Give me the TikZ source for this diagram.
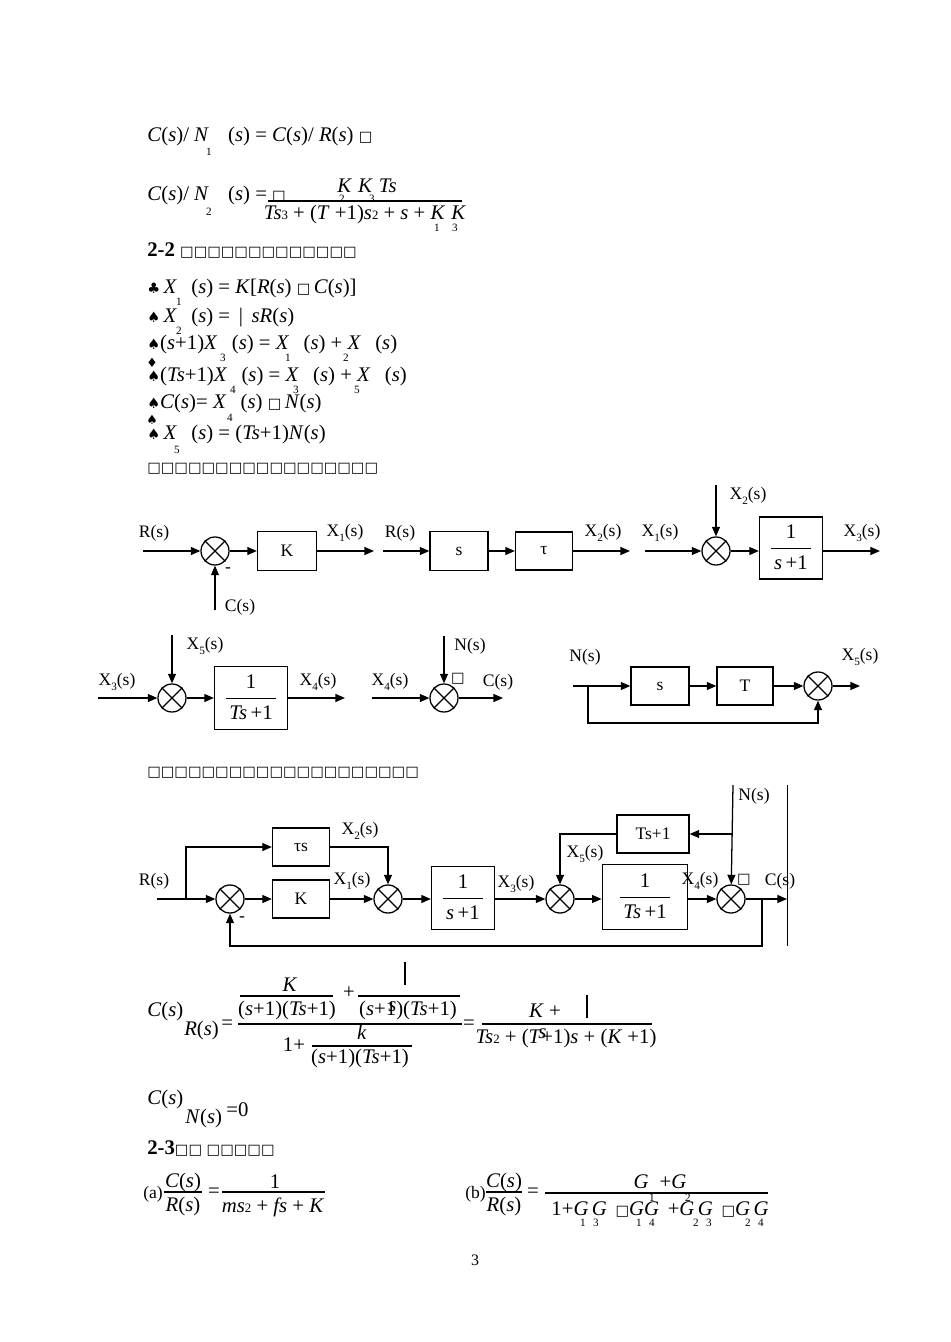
\documentclass[tikz,border=0pt]{standalone}
\usepackage{fontspec}
\setmainfont{Liberation Serif}
\newfontfamily\dv{DejaVu Sans}
\usetikzlibrary{arrows.meta}
\newlength\pxu \setlength\pxu{0.6264pt}
\newcommand\ii[1]{\textit{#1}}
\newcommand\bx{{\dv\fontsize{9}{9}\selectfont □}}
\newcommand\Xs[1]{X\raisebox{-3pt}{\fontsize{7}{7}\selectfont #1}(s)}
\newcommand\fr[2]{{\fontsize{13}{15}\selectfont\renewcommand\arraystretch{1.25}\setlength\tabcolsep{2pt}\begin{tabular}{c}#1\\\hline #2\end{tabular}}}
\begin{document}
\begin{tikzpicture}[x=1\pxu,y=-1\pxu,
  blk/.style={draw,line width=0.8pt,inner sep=0pt,font=\fontsize{11}{11}\selectfont},
  sj/.style={draw,circle,line width=0.8pt,minimum size=28\pxu,inner sep=0pt},
  ar/.style={line width=0.8pt,-{Triangle[length=6pt,width=5pt]}},
  ln/.style={line width=0.8pt},
  lb/.style={font=\fontsize{11}{12}\selectfont,inner sep=0pt},
  eq/.style={font=\fontsize{13}{14}\selectfont,inner sep=0pt,anchor=west},
  sb/.style={font=\fontsize{7}{7}\selectfont,inner sep=0pt},
  cn/.style={font=\fontsize{10}{10}\selectfont,inner sep=0pt,anchor=west}]
\useasboundingbox (0,0) rectangle (950,1342);
\newcommand\xs[1]{\draw[line width=0.7pt] (#1.45)--(#1.225) (#1.135)--(#1.-45);}
% ---------- top equations
\node[eq] (e1) at (147,137) {\ii{C}(\ii{s})/ \ii{N}\hspace{12pt}(\ii{s}) = \ii{C}(\ii{s})/ \ii{R}(\ii{s}) \bx};
\node[sb] (e1s) at (209,152) {1};
\node[eq] (e2) at (147,196) {\ii{C}(\ii{s})/ \ii{N}\hspace{12pt}(\ii{s}) = \bx};
\node[sb] (e2s) at (209,212) {2};
\node[eq,anchor=center] (e2n) at (367,186) {\ii{K\,\,K\,\,Ts}};
\node[sb] (e2a) at (342,199) {2}; \node[sb] (e2b) at (372,199) {3};
\draw[ln] (268,201) -- (462,201);
\node[eq,anchor=center] (e2d) at (365,215) {\ii{Ts}{\fontsize{8}{8}\selectfont 3} + (\ii{T} +1)\ii{s}{\fontsize{8}{8}\selectfont 2} + \ii{s} + \ii{K\,\,K}};
\node[sb] (e2c) at (437,228) {1}; \node[sb] (e2e) at (455,228) {3};
\node[eq] (h22) at (147,251) {\textbf{2-2} {\dv\fontsize{9}{9}\selectfont □□□□□□□□□□□□□}};
\node[eq] (l1) at (147,289) {{\dv\fontsize{9}{9}\selectfont ♣}\,\ii{X}\hspace{9pt}(\ii{s}) = \ii{K}[\ii{R}(\ii{s}) \bx\,\ii{C}(\ii{s})]};
\node[sb] (l1s) at (179,302) {1};
\node[eq] (l2) at (147,318) {{\dv\fontsize{9}{9}\selectfont ♠}\,\ii{X}\hspace{9pt}(\ii{s}) = \,|\, \ii{sR}(\ii{s})};
\node[sb] (l2s) at (179,331) {2};
\node[eq] (l3) at (147,345) {{\dv\fontsize{9}{9}\selectfont ♠}(\ii{s}+1)\ii{X}\hspace{9pt}(\ii{s}) = \ii{X}\hspace{9pt}(\ii{s}) + \ii{X}\hspace{9pt}(\ii{s})};
\node[sb] (l3s) at (223,358) {3}; \node[sb] (l3t) at (288,358) {1}; \node[sb] (l3u) at (346,358) {2};
\node[eq] (l4) at (147,377) {{\dv\fontsize{9}{9}\selectfont ♠}(\ii{Ts}+1)\ii{X}\hspace{9pt}(\ii{s}) = \ii{X}\hspace{9pt}(\ii{s}) + \ii{X}\hspace{9pt}(\ii{s})};
\node[sb] (l4s) at (233,390) {4}; \node[sb] (l4t) at (296,390) {3}; \node[sb] (l4u) at (357,390) {5};
\node[cn] (d4) at (146,363) {\dv\fontsize{8}{8}\selectfont ♦};
\node[eq] (l5) at (147,404) {{\dv\fontsize{9}{9}\selectfont ♠}\ii{C}(\ii{s})= \ii{X}\hspace{9pt}(\ii{s}) \bx\,\ii{N}(\ii{s})};
\node[sb] (l5s) at (230,418) {4};
\node[cn] (d5) at (146,420) {\dv\fontsize{8}{8}\selectfont ♠};
\node[eq] (l6) at (147,435) {{\dv\fontsize{9}{9}\selectfont ♠}\,\ii{X}\hspace{9pt}(\ii{s}) = (\ii{Ts}+1)\ii{N}(\ii{s})};
\node[sb] (l6s) at (177,450) {5};
\node[eq] (t1) at (147,469) {\dv\fontsize{9}{9}\selectfont □□□□□□□□□□□□□□□□□};
% ---------- row 1
\node[sj] (a1) at (215,551) {}; \xs{a1}
\node[blk,minimum width=59\pxu,minimum height=39\pxu] (k1) at (287,551) {K};
\coordinate (a1i) at (143,551); \coordinate (a1c) at (215,610); \coordinate (k1o) at (374,551);
\draw[ar] (a1i) -- (a1); \draw[ar] (a1c) -- (a1); \draw[ar] (a1) -- (k1); \draw[ar] (k1) -- (k1o);
\node[lb] (rs1) at (154,533) {R(s)}; \node[lb] (cs1) at (240,607) {C(s)};
\node[lb] (m1) at (228,570) {-}; \node[lb] (x1a) at (345,533) {\Xs{1}};
\node[blk,minimum width=58\pxu,minimum height=39\pxu] (bs) at (459,551) {s};
\node[blk,minimum width=57\pxu,minimum height=38\pxu] (bt) at (544,551) {τ};
\coordinate (bsi) at (383,551); \coordinate (bto) at (630,551);
\draw[ar] (bsi) -- (bs); \draw[ar] (bs) -- (bt); \draw[ar] (bt) -- (bto);
\node[lb] (rs2) at (400,533) {R(s)}; \node[lb] (x2a) at (603,533) {\Xs{2}};
\node[sj] (a3) at (716,551) {}; \xs{a3}
\node[blk,minimum width=63\pxu,minimum height=62\pxu] (b3) at (791,548) {\fr{1}{\ii{s}\,+1}};
\coordinate (a3i) at (645,551); \coordinate (a3t) at (716,485); \coordinate (b3o) at (880,551);
\draw[ar] (a3i) -- (a3); \draw[ar] (a3t) -- (a3); \draw[ar] (a3) -- (a3-|b3.west); \draw[ar] (b3.east|-a3) -- (b3o);
\node[lb] (x1b) at (660,533) {\Xs{1}}; \node[lb] (x2b) at (748,496) {\Xs{2}}; \node[lb] (x3b) at (862,533) {\Xs{3}};
% ---------- row 2
\node[sj] (a4) at (172,698) {}; \xs{a4}
\node[blk,minimum width=73\pxu,minimum height=63\pxu] (b4) at (251,698) {\fr{1}{\ii{Ts}\,+1}};
\coordinate (a4i) at (98,698); \coordinate (a4t) at (172,635); \coordinate (b4o) at (345,698);
\draw[ar] (a4i) -- (a4); \draw[ar] (a4t) -- (a4); \draw[ar] (a4) -- (b4); \draw[ar] (b4) -- (b4o);
\node[lb] (x3c) at (117,682) {\Xs{3}}; \node[lb] (x5c) at (205,646) {\Xs{5}}; \node[lb] (x4c) at (318,682) {\Xs{4}};
\node[sj] (a5) at (444,698) {}; \xs{a5}
\coordinate (a5i) at (372,698); \coordinate (a5t) at (444,636); \coordinate (a5o) at (503,698);
\draw[ar] (a5i) -- (a5); \draw[ar] (a5t) -- (a5); \draw[ar] (a5) -- (a5o);
\node[lb] (x4d) at (390,682) {\Xs{4}}; \node[lb] (ns1) at (470,646) {N(s)}; \node[lb] (cs2) at (498,682) {C(s)};
\node[lb] (bx1) at (458,679) {\bx};
\node[blk,minimum width=58\pxu,minimum height=38\pxu] (b6) at (660,686) {s};
\node[blk,minimum width=56\pxu,minimum height=38\pxu] (b7) at (745,686) {T};
\node[sj] (a6) at (818,686) {}; \xs{a6}
\coordinate (b6i) at (573,686); \coordinate (fb6) at (588,686); \coordinate (fb6b) at (588,723); \coordinate (a6o) at (860,686);
\draw[ar] (b6i) -- (b6); \draw[ar] (b6) -- (b7); \draw[ar] (b7) -- (a6); \draw[ar] (a6) -- (a6o);
\draw[ar] (fb6) -- (fb6b) -| (a6);
\node[lb] (ns2) at (585,657) {N(s)}; \node[lb] (x5e) at (860,657) {\Xs{5}};
\node[eq] (t2) at (147,773) {\dv\fontsize{9}{9}\selectfont □□□□□□□□□□□□□□□□□□□□};
% ---------- full diagram
\node[sj] (c1) at (230,899) {}; \xs{c1}
\node[blk,minimum width=57\pxu,minimum height=38\pxu] (ck) at (301,899) {K};
\node[blk,minimum width=57\pxu,minimum height=38\pxu] (ct) at (301,847) {τs};
\node[sj] (c2) at (388,899) {}; \xs{c2}
\node[blk,minimum width=63\pxu,minimum height=63\pxu] (cb1) at (463,898) {\fr{1}{\ii{s}\,+1}};
\node[sj] (c3) at (560,899) {}; \xs{c3}
\node[blk,minimum width=85\pxu,minimum height=65\pxu,line width=1.1pt] (cb2) at (645,897) {\fr{1}{\ii{Ts}\,+1}};
\node[sj] (c4) at (731,899) {}; \xs{c4}
\node[blk,minimum width=72\pxu,minimum height=38\pxu] (cts) at (653,834) {Ts+1};
\coordinate (ci) at (157,899); \coordinate (cbr) at (186,899); \coordinate (cbrt) at (186,847);
\coordinate (c2t) at (388,847); \coordinate (cfb) at (762,899); \coordinate (cfbb) at (762,946);
\coordinate (co) at (787,899); \coordinate (cn) at (733,785); \coordinate (cnb) at (733,834);
\coordinate (c3t) at (560,834);
\draw[ar] (ci) -- (c1); \draw[ar] (cbr) -- (cbrt) -- (ct);
\draw[ar] (c1) -- (ck); \draw[ar] (ck) -- (c2); \draw[ar] (ct) -- (c2t) -- (c2);
\draw[ar] (c2) -- (c2-|cb1.west); \draw[ar] (cb1.east|-c2) -- (c3);
\draw[ar] (c3) -- (c3-|cb2.west); \draw[ar] (cb2.east|-c3) -- (c4); \draw[ar] (c4) -- (co);
\draw[ar] (cfb) -- (cfbb) -| (c1);
\draw[ar] (cn) -- (c4); \draw[ar] (cnb) -- (cts); \draw[ar] (cts) -- (c3t) -- (c3);
\coordinate (vt) at (787,785); \coordinate (vb) at (787,946);
\draw[line width=0.6pt] (vt) -- (vb);
\node[lb] (rs3) at (154,881) {R(s)}; \node[lb] (m3) at (242,919) {-};
\node[lb] (x1f) at (352,881) {\Xs{1}}; \node[lb] (x2f) at (360,831) {\Xs{2}};
\node[lb] (x3f) at (516,884) {\Xs{3}}; \node[lb] (x5f) at (585,854) {\Xs{5}};
\node[lb] (x4f) at (700,881) {\Xs{4}}; \node[lb] (bx2) at (744,880) {\bx};
\node[lb] (cs3) at (780,881) {C(s)}; \node[lb] (ns3) at (754,796) {N(s)};
% ---------- big fraction
\node[eq] (f1) at (147,1011) {\ii{C}(\ii{s})};
\node[eq] (f2) at (184,1030) {\ii{R}(\ii{s})};
\node[eq] (f3) at (221,1025) {=};
\draw[ln] (238,1024) -- (462,1024);
\node[eq,anchor=center] (f4) at (290,985) {\ii{K}};
\draw[ln] (240,996) -- (333,996);
\node[eq,anchor=center] (f5) at (287,1010) {(\ii{s}+1)(\ii{Ts}+1)};
\node[eq,anchor=center] (f6) at (349,993) {+};
\draw[line width=1.2pt] (405,962) -- (405,985);
\draw[ln] (358,996) -- (460,996);
\node[eq,anchor=center] (f7) at (408,1010) {(\ii{s}+1\rlap{\raisebox{2pt}{\hspace{-5pt}\ii{s}}})(\ii{Ts}+1)};
\node[eq,anchor=center] (f8) at (294,1045) {1+};
\node[eq,anchor=center] (f9) at (362,1032) {\ii{k}};
\draw[ln] (312,1046) -- (412,1046);
\node[eq,anchor=center] (f10) at (360,1058) {(\ii{s}+1)(\ii{Ts}+1)};
\node[eq,anchor=center] (f11) at (469,1025) {=};
\node[eq,anchor=center] (f12) at (545,1011) {\ii{K} +};
\draw[line width=1.2pt] (587,995) -- (587,1018);
\draw[ln] (482,1024) -- (652,1024);
\node[eq,anchor=center] (f13) at (566,1038) {\ii{Ts}{\fontsize{8}{8}\selectfont 2} + (\ii{T}\rlap{\raisebox{3pt}{\hspace{-2pt}\ii{s}}}+1)\ii{s} + (\ii{K} +1)};
\node[eq] (g1) at (147,1099) {\ii{C}(\ii{s})};
\node[eq] (g2) at (185,1118) {\ii{N}(\ii{s})};
\node[eq] (g3) at (226,1110) {=0};
\node[eq] (h23) at (147,1148) {\textbf{2-3}{\dv\fontsize{9}{9}\selectfont □□ □□□□□}};
% (a)
\node[eq,font=\fontsize{11}{12}\selectfont] (pa) at (143,1194) {(a)};
\node[eq,anchor=center] (pa1) at (183,1182) {\ii{C}(\ii{s})};
\draw[ln] (164,1192) -- (202,1192);
\node[eq,anchor=center] (pa2) at (183,1206) {\ii{R}(\ii{s})};
\node[eq,anchor=center] (pa3) at (214,1193) {=};
\node[eq,anchor=center] (pa4) at (275,1182) {1};
\draw[ln] (222,1192) -- (325,1192);
\node[eq,anchor=center] (pa5) at (273,1207) {\ii{ms}{\fontsize{8}{8}\selectfont 2} + \ii{fs} + \ii{K}};
% (b)
\node[eq,font=\fontsize{11}{12}\selectfont] (pb) at (465,1194) {(b)};
\node[eq,anchor=center] (pb1) at (504,1182) {\ii{C}(\ii{s})};
\draw[ln] (486,1192) -- (522,1192);
\node[eq,anchor=center] (pb2) at (504,1206) {\ii{R}(\ii{s})};
\node[eq,anchor=center] (pb3) at (533,1193) {=};
\node[eq,anchor=center] (pb4) at (660,1182) {\ii{G}\hspace{7pt}+\ii{G}};
\node[sb] (pb4a) at (652,1198) {1}; \node[sb] (pb4b) at (688,1198) {2};
\draw[ln] (545,1193) -- (768,1193);
\node[eq,anchor=center] (pb5) at (660,1209) {1+\ii{G\,G} \,\bx\ii{GG} \,+\ii{G\,G} \,\bx\ii{G\,G}};
\node[sb] (s13a) at (583,1223) {1}; \node[sb] (s13b) at (596,1223) {3};
\node[sb] (s14a) at (639,1223) {1}; \node[sb] (s14b) at (652,1223) {4};
\node[sb] (s23a) at (696,1223) {2}; \node[sb] (s23b) at (709,1223) {3};
\node[sb] (s24a) at (748,1223) {2}; \node[sb] (s24b) at (761,1223) {4};
\node[lb,font=\fontsize{10}{10}\selectfont] (pg) at (475,1260) {3};
\end{tikzpicture}
\end{document}
